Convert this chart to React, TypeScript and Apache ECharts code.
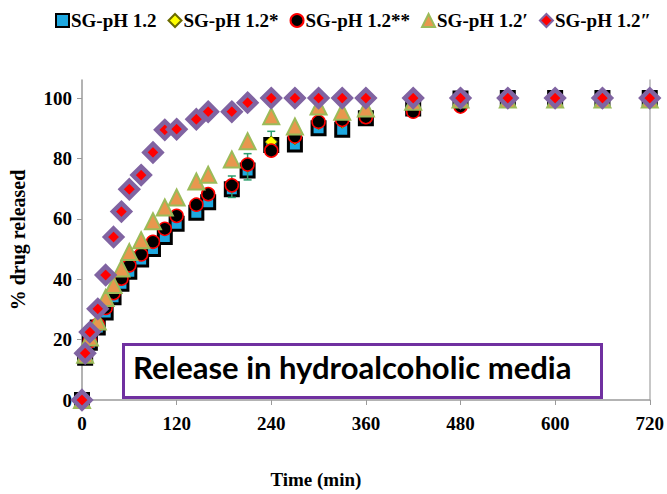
import React, { useEffect, useRef } from "react";
import * as echarts from "echarts";

const times = [0, 4, 10, 20, 30, 40, 50, 60, 75, 90, 105, 120, 145, 160, 190, 210, 240, 270, 300, 330, 360, 420, 480, 540, 600, 660, 720];
const seriesNames = ["SG-pH 1.2", "SG-pH 1.2*", "SG-pH 1.2**", "SG-pH 1.2\u2032", "SG-pH 1.2\u2033"];
const sgSquare = [0, 14, 19, 24, 29, 34, 38.5, 42.5, 46.5, 50, 54, 58.4, 62, 65.5, 69.8, 76, 84.5, 84.6, 90, 89.5, 93.3, 96.6, 99.9, 100, 100, 100, 100];
const sgYellow = [0, 14.5, 20, 25, 31, 36, 40.5, 45, 48.5, 52, 56.5, 61, 64.5, 68.5, 71, 77.5, 85.5, 86.5, 91.5, 92, 94, 96, 98.5, 100, 100, 100, 100];
const sgCircle = [0, 14.5, 19.5, 25, 30.5, 35.4, 40.2, 44.6, 48.2, 52.4, 56.7, 61, 64.7, 68.2, 71.1, 78, 82.6, 87.3, 92.2, 92.8, 93.7, 95.5, 97.2, 100, 100, 100, 100];
const sgTriangle = [0, 15, 20.7, 26, 33.8, 38.1, 43.6, 49, 52.9, 59.2, 63.8, 67.1, 72.4, 74.6, 79.7, 85.7, 94, 90.6, 97.2, 95.5, 96.6, 98.8, 99.5, 99.5, 99.5, 99.5, 99.5];
const sgDiamond = [0, 15.5, 22.5, 30.2, 41.4, 54, 62.4, 69.8, 74.5, 82, 89.5, 89.7, 93, 95.5, 95.5, 98.5, 100, 100, 100, 100, 100, 100, 100, 100, 100, 100, 100];
const errTimes = [190, 210, 240];
const errLow = [67.1, 72.9, 82];
const errHigh = [74.2, 81.6, 89];
const xTicks = [0, 120, 240, 360, 480, 600, 720];
const yTicks = [0, 20, 40, 60, 80, 100];
const annotation = "Release in hydroalcoholic media";

const serif = "'Liberation Serif', 'Times New Roman', serif";

export default function App() {
  const ref = useRef<HTMLDivElement>(null);
  useEffect(() => {
    if (!ref.current) return;
    const chart = echarts.init(ref.current, undefined, { renderer: "svg" });
    const pair = (vals: number[]) => times.map((t, i) => [t, vals[i]]);
    const styles = [
      { symbol: "rect", symbolSize: 13, itemStyle: { color: "#1ea8e0", borderColor: "#000", borderWidth: 3, opacity: 1 } },
      { symbol: "diamond", symbolSize: 12, itemStyle: { color: "#ffff00", borderColor: "#6b6b00", borderWidth: 1, opacity: 1 } },
      { symbol: "circle", symbolSize: 13, itemStyle: { color: "#000", borderColor: "#ff0000", borderWidth: 1.5, opacity: 1 } },
      { symbol: "triangle", symbolSize: 16, itemStyle: { color: "#e8974e", borderColor: "#9bbb59", borderWidth: 2, opacity: 1 } },
      { symbol: "diamond", symbolSize: 17, itemStyle: { color: "#ff0000", borderColor: "#8064a2", borderWidth: 4.5, opacity: 1 } },
    ];
    const vals = [sgSquare, sgYellow, sgCircle, sgTriangle, sgDiamond];
    const scatter = seriesNames.map((name, i) => ({
      type: "scatter",
      name,
      data: pair(vals[i]),
      symbol: styles[i].symbol,
      symbolSize: styles[i].symbolSize,
      itemStyle: styles[i].itemStyle,
      z: 3 + i,
    }));
    const errData = errTimes.map((t, i) => [t, errLow[i], errHigh[i]]);
    chart.setOption({
      animation: false,
      backgroundColor: "#fff",
      legend: {
        top: 6,
        left: 50,
        itemWidth: 13,
        itemHeight: 13,
        itemGap: 11,
        textStyle: { fontFamily: serif, fontWeight: "bold", fontSize: 19, color: "#000", padding: [0, 0, 0, -3] },
        data: seriesNames,
      },
      grid: { left: 82, right: 17, top: 80, bottom: 91, containLabel: false },
      xAxis: {
        type: "value",
        min: 0,
        max: 720,
        interval: 120,
        name: "Time (min)",
        nameLocation: "middle",
        nameGap: 70,
        nameTextStyle: { fontFamily: serif, fontWeight: "bold", fontSize: 19, color: "#000", padding: [0, 100, 0, 0] },
        axisLine: { show: true, lineStyle: { color: "#9a9a9a", width: 1.5 } },
        axisTick: { show: true, length: 5, lineStyle: { color: "#9a9a9a" } },
        axisLabel: { fontFamily: serif, fontWeight: "bold", fontSize: 19, color: "#000", margin: 14, customValues: xTicks },
        splitLine: { show: false },
      },
      yAxis: [
        {
          type: "value",
          min: 0,
          max: 106,
          name: "% drug released",
          nameLocation: "middle",
          nameGap: 54,
          nameTextStyle: { fontFamily: serif, fontWeight: "bold", fontSize: 20, color: "#000" },
          axisLine: { show: true, lineStyle: { color: "#9a9a9a", width: 1.5 } },
          axisTick: { show: true, length: 5, lineStyle: { color: "#9a9a9a" }, customValues: yTicks },
          axisLabel: { fontFamily: serif, fontWeight: "bold", fontSize: 19, color: "#000", margin: 10, customValues: yTicks },
          splitLine: { show: false },
        },
        {
          type: "value",
          min: 0,
          max: 106,
          position: "right",
          axisLine: { show: true, lineStyle: { color: "#b5b5b5", width: 1.5 } },
          axisTick: { show: false },
          axisLabel: { show: false },
          splitLine: { show: false },
        },
      ],
      series: [
        ...scatter.slice(0, 2),
        {
          type: "custom",
          name: "err",
          data: errData,
          z: 4,
          renderItem: (params: any, api: any) => {
            const top = api.coord([api.value(0), api.value(2)]);
            const bot = api.coord([api.value(0), api.value(1)]);
            const c = "#2e9e6e";
            const st = { stroke: c, lineWidth: 1.5 };
            return {
              type: "group",
              children: [
                { type: "line", shape: { x1: top[0], y1: top[1], x2: bot[0], y2: bot[1] }, style: st },
                { type: "line", shape: { x1: top[0] - 4, y1: top[1], x2: top[0] + 4, y2: top[1] }, style: st },
                { type: "line", shape: { x1: bot[0] - 4, y1: bot[1], x2: bot[0] + 4, y2: bot[1] }, style: st },
              ],
            };
          },
        },
        ...scatter.slice(2),
      ],
      graphic: [
        {
          type: "rect",
          left: 122,
          top: 343,
          shape: { width: 478, height: 53 },
          style: { fill: "#fff", stroke: "#7030a0", lineWidth: 3 },
          z: 100,
        },
        {
          type: "text",
          left: 133,
          top: 351,
          style: { text: annotation, font: "bold 31px Lato, 'Open Sans', sans-serif", fill: "#000" },
          z: 101,
        },
      ],
    });
    return () => chart.dispose();
  }, []);
  return <div ref={ref} style={{ position: "absolute", left: 0, top: 0, width: 667, height: 494 }} />;
}
